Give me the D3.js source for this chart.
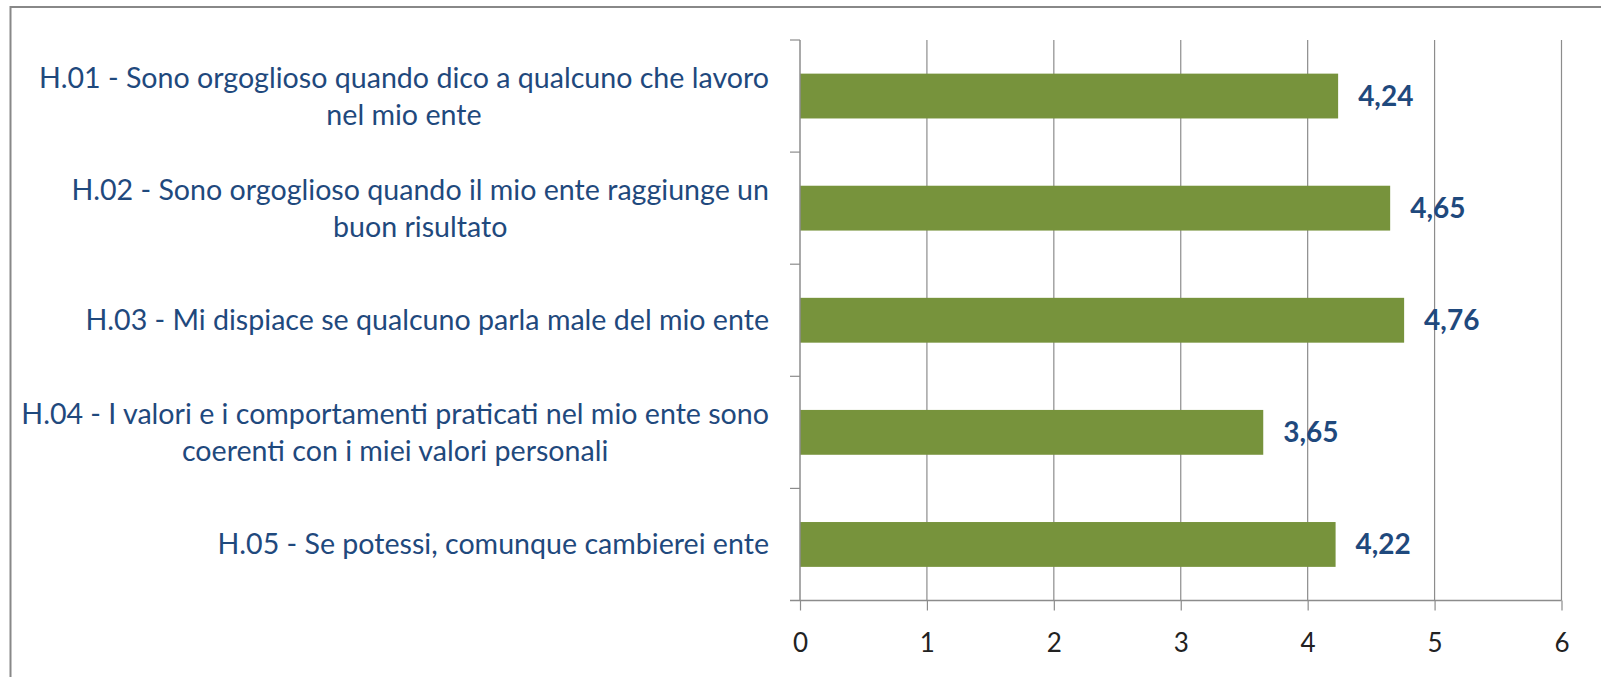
<!DOCTYPE html>
<html>
<head>
<meta charset="utf-8">
<script src="https://cdn.jsdelivr.net/npm/d3@7"></script>
<style>
  body { margin: 0; background: #fff; }
  svg { display: block; }
</style>
</head>
<body>
<svg width="1601" height="677"></svg>
<script>
const width = 1601;
const height = 677;

// data
const categories = [
  "H.01 - Sono orgoglioso quando dico a qualcuno che lavoro\nnel mio ente",
  "H.02 - Sono orgoglioso quando il mio ente raggiunge un\nbuon risultato",
  "H.03 - Mi dispiace se qualcuno parla male del mio ente",
  "H.04 - I valori e i comportamenti praticati nel mio ente sono\ncoerenti con i miei valori personali",
  "H.05 - Se potessi, comunque cambierei ente"
];
const values = [4.24, 4.65, 4.76, 3.65, 4.22];
const xTicks = [0, 1, 2, 3, 4, 5, 6];

const rows = categories.map((c, i) => ({ label: c, value: values[i] }));

const margin = { top: 40, left: 800, right: 1561.5, bottom: 600.5 };
const green = "#77933C";
const blue = "#1F497D";
const grey = "#8c8c8c";
const font = "Lato, 'Open Sans', sans-serif";

const svg = d3.select("svg");

// outer frame (top and left edges visible, the rest runs off the picture)
svg.append("path")
  .attr("d", "M10.5,690V7H1610")
  .attr("fill", "none")
  .attr("stroke", "#888")
  .attr("stroke-width", 2);

const x = d3.scaleLinear().domain([0, 6]).range([margin.left, margin.right]);
const y = d3.scaleBand()
  .domain(rows.map(d => d.label))
  .range([margin.top, margin.bottom])
  .paddingInner(0.6)
  .paddingOuter(0.3);

// vertical gridlines
svg.append("g")
  .selectAll("line")
  .data(xTicks.slice(1))
  .join("line")
  .attr("x1", d => x(d)).attr("x2", d => x(d))
  .attr("y1", margin.top).attr("y2", margin.bottom)
  .attr("stroke", grey)
  .attr("stroke-width", 1.2);

// bars
svg.append("g")
  .selectAll("rect")
  .data(rows)
  .join("rect")
  .attr("x", x(0))
  .attr("y", d => y(d.label))
  .attr("width", d => x(d.value) - x(0))
  .attr("height", y.bandwidth())
  .attr("fill", green);

// x axis
const xAxis = svg.append("g")
  .attr("transform", `translate(0,${margin.bottom})`)
  .call(d3.axisBottom(x).tickValues(xTicks).tickFormat(d3.format("d"))
    .tickSize(10).tickPadding(23).tickSizeOuter(0));
xAxis.select(".domain").remove();
xAxis.append("line")
  .attr("x1", margin.left - 10).attr("x2", margin.right)
  .attr("stroke", grey).attr("stroke-width", 1.5);
xAxis.selectAll(".tick line").attr("stroke", grey).attr("stroke-width", 1.2);
xAxis.selectAll(".tick text")
  .attr("font-family", font)
  .attr("font-size", 26)
  .attr("fill", "#222");

// y axis: line plus ticks at band boundaries
const step = y.step();
const bounds = d3.range(rows.length).map(i => margin.top + i * step);
const yAxis = svg.append("g");
yAxis.append("line")
  .attr("x1", margin.left).attr("x2", margin.left)
  .attr("y1", margin.top).attr("y2", margin.bottom)
  .attr("stroke", grey).attr("stroke-width", 1.5);
yAxis.selectAll(".tk")
  .data(bounds)
  .join("line")
  .attr("class", "tk")
  .attr("x1", margin.left - 10).attr("x2", margin.left)
  .attr("y1", d => d).attr("y2", d => d)
  .attr("stroke", grey).attr("stroke-width", 1.2);

// category labels: centred block, right edge aligned near the axis
const labelRight = 769;
const lineH = 37;
const labels = svg.append("g")
  .selectAll("text")
  .data(rows)
  .join("text")
  .attr("font-family", font)
  .attr("font-size", 28.6)
  .attr("fill", blue)
  .attr("text-anchor", "middle");

labels.each(function(d) {
  const t = d3.select(this);
  const lines = d.label.split("\n");
  const cy = y(d.label) + y.bandwidth() / 2;
  const first = cy - (lines.length - 1) * lineH / 2 + 10;
  lines.forEach((ln, i) => {
    t.append("tspan").attr("y", first + i * lineH).text(ln);
  });
  const w = d3.max(t.selectAll("tspan").nodes(), n => n.getComputedTextLength());
  t.selectAll("tspan").attr("x", labelRight - w / 2);
});

// value labels
svg.append("g")
  .selectAll("text")
  .data(rows)
  .join("text")
  .attr("x", d => x(d.value) + 20)
  .attr("y", d => y(d.label) + y.bandwidth() / 2 + 10)
  .attr("font-family", font)
  .attr("font-size", 28)
  .attr("font-weight", "bold")
  .attr("fill", blue)
  .text(d => d3.format(".2f")(d.value).replace(".", ","));
</script>
</body>
</html>
